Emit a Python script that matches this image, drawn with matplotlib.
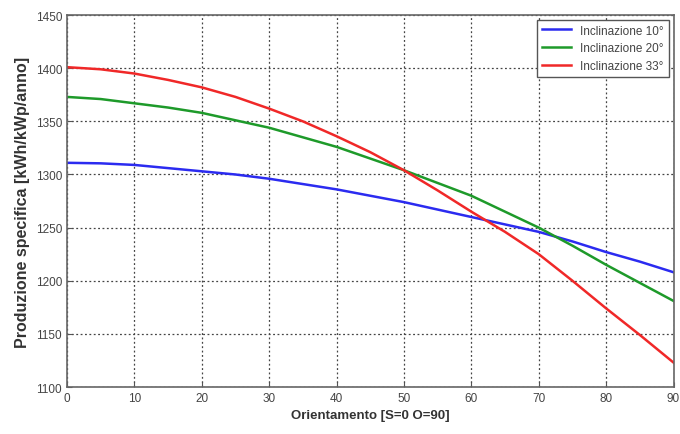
import matplotlib
matplotlib.use("Agg")
import matplotlib.pyplot as plt

plt.rcParams['font.family'] = ['Liberation Sans', 'DejaVu Sans']

orientamento = [0, 5, 10, 15, 20, 25, 30, 35, 40, 45, 50, 55, 60, 65, 70, 75, 80, 85, 90]
incl_10 = [1311, 1310.5, 1309, 1306, 1303, 1300, 1296, 1291, 1286, 1280, 1274,
           1267, 1260, 1253, 1246, 1237, 1227, 1218, 1208]
incl_20 = [1373, 1371, 1367, 1363, 1358, 1351, 1344, 1335, 1326, 1315, 1304,
           1292, 1280, 1265, 1250, 1233, 1215, 1198, 1181]
incl_33 = [1401, 1399, 1395, 1389, 1382, 1373, 1362, 1350, 1336, 1321, 1304,
           1285, 1265, 1246, 1225, 1200, 1174, 1149, 1123]

fig = plt.figure(figsize=(6.8, 4.35), dpi=100)
ax = fig.add_axes([0.0985, 0.108, 0.892, 0.855])

ax.plot(orientamento, incl_10, color='#2b2bf0', lw=1.8, label='Inclinazione 10°')
ax.plot(orientamento, incl_20, color='#1e9a2a', lw=1.8, label='Inclinazione 20°')
ax.plot(orientamento, incl_33, color='#f02828', lw=1.8, label='Inclinazione 33°')

ax.set_xlim(0, 90)
ax.set_ylim(1100, 1450)
ax.set_xticks(range(0, 91, 10))
ax.set_yticks(range(1100, 1451, 50))
ax.grid(True, color='#444444', linestyle=(0, (1.5, 2)), linewidth=0.9)
ax.tick_params(direction='in', labelsize=8.5, labelcolor='#444444', color='#555555')
for s in ax.spines.values():
    s.set_color('#666666')
    s.set_linewidth(1.2)

ax.set_xlabel('Orientamento [S=0 O=90]', fontsize=9.5, fontweight='bold', color='#333333')
ax.set_ylabel('Produzione specifica [kWh/kWp/anno]', fontsize=11.5, fontweight='bold', color='#333333')

leg = ax.legend(loc='upper right', fontsize=8.5, fancybox=False, framealpha=1,
                edgecolor='#555555', borderaxespad=0.4, handlelength=2.5)
for t in leg.get_texts():
    t.set_color('#444444')

fig.savefig('out.png', dpi=100)
